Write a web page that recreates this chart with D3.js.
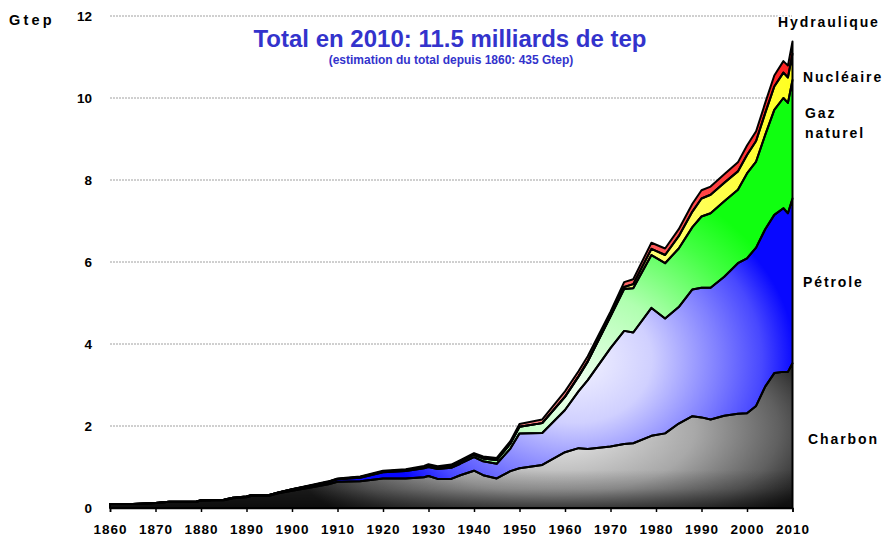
<!DOCTYPE html>
<html lang="fr">
<head>
<meta charset="UTF-8">
<title>Consommation mondiale d'energie primaire</title>
<script src="https://cdn.jsdelivr.net/npm/d3@7"></script>
<style>
    body { margin: 0; background: #fff; }
    text { font-family: "Liberation Sans", Arial, sans-serif; font-weight: bold; }
</style>
</head>
<body>
<script>
    // values (Gtep per year, not cumulated)
    var years = [1860, 1865, 1870, 1873, 1879, 1880, 1885, 1887, 1890, 1891, 1895, 1897, 1900, 1905, 1908,
        1910, 1915, 1920, 1925, 1929, 1930, 1932, 1935, 1937, 1940, 1942, 1945, 1948, 1950, 1955,
        1960, 1963, 1965, 1970, 1973, 1975, 1979, 1982, 1985, 1988, 1990, 1992, 1995, 1998, 2000,
        2002, 2004, 2006, 2008, 2009, 2010];
    var charbon = [0.10, 0.10, 0.12, 0.15, 0.15, 0.18, 0.19, 0.24, 0.26, 0.29, 0.30, 0.36, 0.42, 0.52, 0.58,
        0.64, 0.65, 0.72, 0.72, 0.75, 0.78, 0.71, 0.71, 0.80, 0.91, 0.80, 0.72, 0.90, 0.97, 1.05,
        1.36, 1.46, 1.44, 1.50, 1.56, 1.58, 1.76, 1.82, 2.06, 2.24, 2.21, 2.16, 2.25, 2.30, 2.31,
        2.49, 2.96, 3.29, 3.32, 3.32, 3.53];
    var petrole = [0, 0, 0, 0, 0.01, 0.01, 0.01, 0.01, 0.02, 0.02, 0.02, 0.02, 0.03, 0.04, 0.05,
        0.06, 0.09, 0.15, 0.18, 0.22, 0.22, 0.24, 0.27, 0.28, 0.33, 0.34, 0.36, 0.55, 0.85, 0.78,
        1.03, 1.39, 1.68, 2.40, 2.76, 2.70, 3.12, 2.80, 2.84, 3.09, 3.16, 3.21, 3.39, 3.67, 3.78,
        3.86, 3.84, 3.86, 3.99, 3.87, 4.02];
    var gaz = [0, 0, 0, 0, 0, 0, 0, 0, 0, 0, 0, 0, 0.005, 0.01, 0.01,
        0.01, 0.015, 0.02, 0.025, 0.03, 0.04, 0.04, 0.05, 0.055, 0.06, 0.07, 0.09, 0.12, 0.16, 0.24,
        0.32, 0.36, 0.45, 0.77, 1.02, 1.08, 1.29, 1.35, 1.43, 1.52, 1.74, 1.82, 1.84, 1.79, 2.07,
        2.10, 2.30, 2.56, 2.69, 2.69, 2.89];
    var nucleaire = [0, 0, 0, 0, 0, 0, 0, 0, 0, 0, 0, 0, 0, 0, 0,
        0, 0, 0, 0, 0, 0, 0, 0, 0, 0, 0, 0, 0, 0, 0,
        0.005, 0.01, 0.01, 0.02, 0.05, 0.10, 0.15, 0.20, 0.30, 0.38, 0.44, 0.45, 0.45, 0.45, 0.45,
        0.50, 0.53, 0.57, 0.62, 0.62, 0.64];
    var hydraulique = [0, 0, 0, 0, 0, 0, 0, 0, 0, 0, 0, 0, 0.005, 0.01, 0.01,
        0.01, 0.015, 0.02, 0.02, 0.025, 0.03, 0.03, 0.03, 0.035, 0.04, 0.045, 0.05, 0.06, 0.07, 0.09,
        0.13, 0.12, 0.12, 0.10, 0.12, 0.12, 0.15, 0.16, 0.17, 0.19, 0.20, 0.20, 0.21, 0.22, 0.23,
        0.24, 0.25, 0.27, 0.28, 0.29, 0.30];

    var keys = ["Charbon", "Pétrole", "Gaz naturel", "Nucléaire", "Hydraulique"];
    var yTicks = [0, 2, 4, 6, 8, 10, 12];
    var xTicks = d3.range(1860, 2011, 10);

    var title = "Total en 2010: 11.5 milliards de tep";
    var subtitle = "(estimation du total depuis 1860: 435 Gtep)";

    // table for d3.stack
    var rows = years.map(function (yr, i) {
        return {
            year: yr,
            "Charbon": charbon[i],
            "Pétrole": petrole[i],
            "Gaz naturel": gaz[i],
            "Nucléaire": nucleaire[i],
            "Hydraulique": hydraulique[i]
        };
    });

    var width = 884, height = 538;

    var x = d3.scaleLinear().domain([1860, 2010]).range([110, 792.5]);
    var y = d3.scaleLinear().domain([0, 12]).range([508, 16]);

    var svg = d3.select("body").append("svg")
        .attr("width", width)
        .attr("height", height);

    var defs = svg.append("defs");

    // radial fills, light around the 1960s, darker to the edges
    function radial(id, cx, cy, rx, ry, stops) {
        var g = defs.append("radialGradient")
            .attr("id", id)
            .attr("gradientUnits", "userSpaceOnUse")
            .attr("cx", 0).attr("cy", 0).attr("r", 1)
            .attr("gradientTransform", "translate(" + cx + "," + cy + ") scale(" + rx + "," + ry + ")");
        stops.forEach(function (s) {
            g.append("stop").attr("offset", s[0]).attr("stop-color", s[1]);
        });
    }
    function linear(id, x1, y1, x2, y2, stops) {
        var g = defs.append("linearGradient")
            .attr("id", id)
            .attr("gradientUnits", "userSpaceOnUse")
            .attr("x1", x1).attr("y1", y1).attr("x2", x2).attr("y2", y2);
        stops.forEach(function (s) {
            g.append("stop").attr("offset", s[0]).attr("stop-color", s[1])
                .attr("stop-opacity", s[2] === undefined ? 1 : s[2]);
        });
    }
    radial("gCharbon", 555, 430, 280, 130, [[0, "#eeeeee"], [0.5, "#a8a8a8"], [0.8, "#606060"], [1, "#202020"]]);
    radial("gPetrole", 575, 360, 220, 180, [[0, "#f4f4ff"], [0.35, "#d0d0ff"], [0.65, "#8080ff"], [0.85, "#4848ff"], [1, "#0808ff"]]);
    radial("gGaz", 580, 390, 230, 220, [[0, "#f0fff0"], [0.45, "#b0ffb0"], [0.8, "#44ff44"], [1, "#10ff10"]]);
    linear("gNucleaire", 560, 0, 793, 0, [[0, "#ffffa8"], [1, "#ffff20"]]);
    linear("gHydro", 560, 0, 793, 0, [[0, "#ff8080"], [1, "#ff2020"]]);
    // darker bands at the foot of the coal layer
    linear("gShade", 0, 470, 0, 508, [[0, "#000", 0], [0.5, "#000", 0.2], [1, "#000", 0.6]]);
    var fills = ["url(#gCharbon)", "url(#gPetrole)", "url(#gGaz)", "url(#gNucleaire)", "url(#gHydro)"];

    // grid lines
    svg.append("g")
        .selectAll("line")
        .data(yTicks.filter(function (d) { return d > 0; }))
        .enter().append("line")
        .attr("x1", 110).attr("x2", 792)
        .attr("y1", function (d) { return y(d); })
        .attr("y2", function (d) { return y(d); })
        .attr("stroke", "#a0a0a0")
        .attr("stroke-width", 1)
        .attr("stroke-dasharray", "2,1");

    // stacked areas
    var series = d3.stack().keys(keys)(rows);
    var area = d3.area()
        .x(function (d) { return x(d.data.year); })
        .y0(function (d) { return y(d[0]); })
        .y1(function (d) { return y(d[1]); });

    var layers = svg.append("g");
    layers.selectAll("path.layer")
        .data(series)
        .enter().append("path")
        .attr("class", "layer")
        .attr("d", area)
        .attr("fill", function (d, i) { return fills[i]; });

    layers.append("path")
        .datum(series[0])
        .attr("d", area)
        .attr("fill", "url(#gShade)");

    layers.selectAll("path.edge")
        .data(series)
        .enter().append("path")
        .attr("class", "edge")
        .attr("d", area)
        .attr("fill", "none")
        .attr("stroke", "#000")
        .attr("stroke-width", 2)
        .attr("stroke-linejoin", "round");

    // x axis
    var xAxis = svg.append("g")
        .attr("transform", "translate(0," + y(0) + ")")
        .call(d3.axisBottom(x).tickValues(xTicks).tickFormat(d3.format("d")).tickSize(4).tickPadding(12));
    xAxis.select(".domain").attr("stroke", "#000").attr("stroke-width", 1.5);
    xAxis.selectAll(".tick line").attr("stroke", "#000").attr("stroke-width", 1.5);
    xAxis.selectAll("text")
        .attr("fill", "#000")
        .style("font-size", "13.5px")
        .style("letter-spacing", "1px")
        .style("font-family", "'Liberation Sans', Arial, sans-serif")
        .style("font-weight", "bold");

    // y labels, no axis line
    svg.append("g")
        .selectAll("text")
        .data(yTicks)
        .enter().append("text")
        .attr("x", 92)
        .attr("y", function (d) { return y(d); })
        .attr("dy", "0.35em")
        .attr("text-anchor", "end")
        .style("font-size", "13.5px")
        .text(function (d) { return d; });

    svg.append("text")
        .attr("x", 9).attr("y", 25)
        .style("font-size", "14.5px")
        .style("letter-spacing", "3.2px")
        .text("Gtep");

    // titles
    svg.append("text")
        .attr("x", 450).attr("y", 47)
        .attr("text-anchor", "middle")
        .attr("fill", "#3333cc")
        .style("font-size", "24px")
        .text(title);
    svg.append("text")
        .attr("x", 451).attr("y", 64)
        .attr("text-anchor", "middle")
        .attr("fill", "#3333cc")
        .style("font-size", "12px")
        .text(subtitle);

    // series names on the right
    var labels = [
        { lines: ["Hydraulique"], x: 778, y: 27 },
        { lines: ["Nucléaire"], x: 803, y: 82 },
        { lines: ["Gaz", "naturel"], x: 805, y: 118 },
        { lines: ["Pétrole"], x: 803, y: 287 },
        { lines: ["Charbon"], x: 808, y: 444 }
    ];
    labels.forEach(function (l) {
        l.lines.forEach(function (t, j) {
            svg.append("text")
                .attr("x", l.x)
                .attr("y", l.y + j * 20)
                .style("font-size", "14px")
                .style("letter-spacing", "1.9px")
                .attr("stroke", "#fff")
                .attr("stroke-width", 3)
                .attr("paint-order", "stroke")
                .text(t);
        });
    });
</script>
</body>
</html>
